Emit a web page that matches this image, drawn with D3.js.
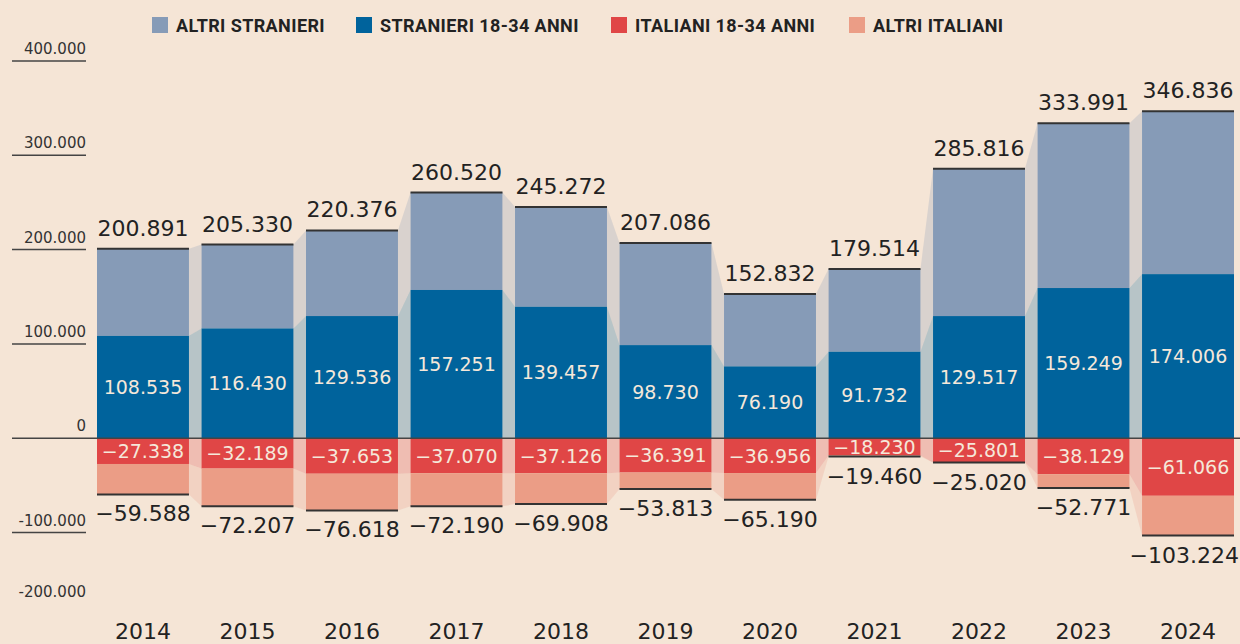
<!DOCTYPE html>
<meta charset="utf-8">
<style>
    body { margin: 0; background: #f5e5d6; }
    svg { display: block; font-family: "DejaVu Sans", sans-serif; }
    .legend text { font-family: Roboto, sans-serif; font-weight: bold; font-size: 18px; letter-spacing: 0.4px; fill: #222; }
    .axis text { font-size: 15px; fill: #333; }
    .total { font-size: 22px; fill: #222; }
    .inner { font-size: 19px; fill: #f5e8da; }
    .year { font-size: 22px; fill: #222; }
</style>
<body>
<svg width="1240" height="644"></svg>
<script src="https://d3js.org/d3.v7.min.js"></script>
<script>

    // data
    var years = ["2014","2015","2016","2017","2018","2019","2020","2021","2022","2023","2024"];
    var stranieriTot = [200891, 205330, 220376, 260520, 245272, 207086, 152832, 179514, 285816, 333991, 346836];
    var stranieri1834 = [108535, 116430, 129536, 157251, 139457, 98730, 76190, 91732, 129517, 159249, 174006];
    var italiani1834 = [-27338, -32189, -37653, -37070, -37126, -36391, -36956, -18230, -25801, -38129, -61066];
    var italianiTot = [-59588, -72207, -76618, -72190, -69908, -53813, -65190, -19460, -25020, -52771, -103224];
    var yTicks = [400000, 300000, 200000, 100000, 0, -100000, -200000];

    var legendNames = ["ALTRI STRANIERI", "STRANIERI 18-34 ANNI", "ITALIANI 18-34 ANNI", "ALTRI ITALIANI"];
    var colors = ["#869bb7", "#00639c", "#e04646", "#eb9d86"];

    var svg = d3.select("svg");
    var width = +svg.attr("width");
    var fmt = function (v) {
        var s = d3.format(",")(Math.abs(v)).replace(/,/g, ".");
        return (v < 0 ? "\u2212" : "") + s;
    };

    var x = d3.scaleBand().domain(years).range([97, 1234]).paddingInner(0.12).paddingOuter(0);
    var y = d3.scaleLinear().domain([-200000, 400000]).range([626.8, 61]);
    var bw = x.bandwidth();

    // build segments: [from, to] per series per year
    var segs = years.map(function (yr, i) {
        var italBottom = Math.min(italianiTot[i], italiani1834[i]);
        return [
            [stranieri1834[i], stranieriTot[i]],
            [0, stranieri1834[i]],
            [italiani1834[i], 0],
            [italBottom, italiani1834[i]]
        ];
    });

    // legend
    var legendX = [152, 356, 611, 849];
    var lg = svg.append("g").attr("class", "legend");
    legendNames.forEach(function (n, k) {
        lg.append("rect").attr("x", legendX[k]).attr("y", 17).attr("width", 16).attr("height", 16).attr("fill", colors[k]);
        lg.append("text").attr("x", legendX[k] + 24).attr("y", 32).text(n);
    });

    // y axis labels and short rules
    var ax = svg.append("g").attr("class", "axis");
    yTicks.forEach(function (t) {
        var yy = y(t);
        var last = t === -200000;
        ax.append("text").attr("x", 86).attr("y", last ? yy - 30 : yy - 7)
            .attr("text-anchor", "end").text(t === 0 ? "0" : fmt(t).replace("\u2212", "-"));
        if (!last && t !== 0) {
            ax.append("line").attr("x1", 12).attr("x2", 86).attr("y1", yy).attr("y2", yy)
                .attr("stroke", "#444").attr("stroke-width", 1.5);
        }
    });

    // connectors between neighbouring bars
    var conn = svg.append("g");
    for (var i = 0; i < years.length - 1; i++) {
        for (var k = 0; k < 4; k++) {
            var a = segs[i][k], b = segs[i + 1][k];
            var x0 = x(years[i]) + bw, x1 = x(years[i + 1]);
            conn.append("polygon")
                .attr("points", [[x0, y(a[1])], [x1, y(b[1])], [x1, y(b[0])], [x0, y(a[0])]].join(" "))
                .attr("fill", colors[k]).attr("fill-opacity", 0.25);
        }
    }

    // bars
    var bars = svg.append("g");
    years.forEach(function (yr, i) {
        segs[i].forEach(function (s, k) {
            bars.append("rect")
                .attr("x", x(yr)).attr("width", bw)
                .attr("y", y(s[1])).attr("height", Math.max(0, y(s[0]) - y(s[1])))
                .attr("fill", colors[k]);
        });
    });

    // zero line
    svg.append("line").attr("x1", 12).attr("x2", width).attr("y1", y(0)).attr("y2", y(0))
        .attr("stroke", "#444").attr("stroke-width", 1.5);

    // keeps a centred label inside the svg
    function keepInside(sel) {
        sel.each(function () {
            var w = this.getComputedTextLength();
            var cx = +this.getAttribute("x");
            if (cx + w / 2 > width - 1) this.setAttribute("x", width - 1 - w / 2);
        });
    }

    // top / bottom rules and labels
    var lab = svg.append("g");
    years.forEach(function (yr, i) {
        var cx = x(yr) + bw / 2;
        var top = y(stranieriTot[i]);
        var bot = y(segs[i][3][0]);
        lab.append("line").attr("x1", x(yr)).attr("x2", x(yr) + bw).attr("y1", top).attr("y2", top)
            .attr("stroke", "#333").attr("stroke-width", 2);
        lab.append("line").attr("x1", x(yr)).attr("x2", x(yr) + bw).attr("y1", bot).attr("y2", bot)
            .attr("stroke", "#333").attr("stroke-width", 2);
        lab.append("text").attr("class", "total").attr("x", cx).attr("y", top - 13)
            .attr("text-anchor", "middle").text(fmt(stranieriTot[i]));
        lab.append("text").attr("class", "total").attr("x", cx).attr("y", bot + 27)
            .attr("text-anchor", "middle").text(fmt(italianiTot[i]));
        lab.append("text").attr("class", "inner").attr("x", cx)
            .attr("y", (y(0) + y(stranieri1834[i])) / 2 + 7)
            .attr("text-anchor", "middle").text(fmt(stranieri1834[i]));
        lab.append("text").attr("class", "inner").attr("x", cx)
            .attr("y", (y(0) + y(italiani1834[i])) / 2 + 7)
            .attr("text-anchor", "middle").text(fmt(italiani1834[i]));
        lab.append("text").attr("class", "year").attr("x", cx).attr("y", 639)
            .attr("text-anchor", "middle").text(yr);
    });
    keepInside(lab.selectAll("text.total"));

</script>
</body>
